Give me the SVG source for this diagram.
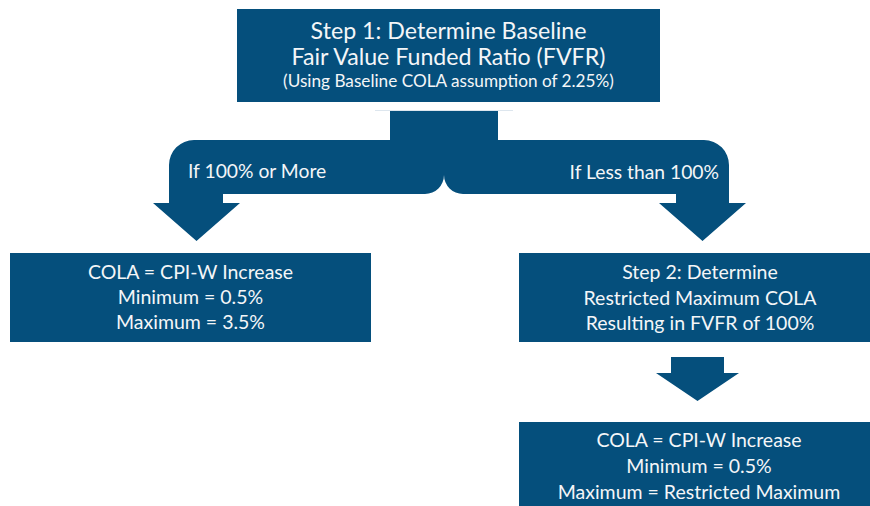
<svg xmlns="http://www.w3.org/2000/svg" width="870" height="506" viewBox="0 0 870 506">
  <style>
    .box { fill: #054f7c; }
    .arrow { fill: #054f7c; }
    text { fill: #f4f6f8; font-family: Lato, "Liberation Sans", sans-serif; }
    .t1 { font-size: 23.2px; text-anchor: middle; }
    .t2 { font-size: 17.2px; text-anchor: middle; }
    .t3 { font-size: 19.5px; text-anchor: middle; }
    .lbl { font-size: 19.3px; }
  </style>
  <rect width="870" height="506" fill="#ffffff"/>
  <g id="connectors">
    <line x1="375" y1="110.5" x2="513" y2="110.5" stroke="#dde6ee" stroke-width="1"/>
    <path id="arrow-left" class="arrow" d="M390,111 L444,111 L444,175 A19,19 0 0 1 425,194 L223,194 L223,203 L240,203 L196.5,241 L153,203 L169,203 L169,165 A25,25 0 0 1 194,140 L390,140 Z"/>
    <path id="arrow-right" class="arrow" d="M444,111 L498,111 L498,140 L704,140 A25,25 0 0 1 729,165 L729,203 L746,203 L702.5,241 L659,203 L676,203 L676,194 L463,194 A19,19 0 0 1 444,175 Z"/>
    <text class="lbl" x="188" y="178">If 100% or More</text>
    <text class="lbl" x="719" y="179" text-anchor="end">If Less than 100%</text>
    <path id="arrow-step2" class="arrow" d="M671,357 L724,357 L724,373 L739,373 L697.5,401 L656,373 L671,373 Z"/>
  </g>
  <g id="step1">
    <rect class="box" x="237" y="9" width="423" height="93"/>
    <text class="t1" x="448.5" y="39">Step 1: Determine Baseline</text>
    <text class="t1" x="448.5" y="65">Fair Value Funded Ratio (FVFR)</text>
    <text class="t2" x="448.5" y="87">(Using Baseline COLA assumption of 2.25%)</text>
  </g>
  <g id="result-left">
    <rect class="box" x="10" y="253" width="361" height="89"/>
    <text class="t3" x="190.5" y="279">COLA = CPI-W Increase</text>
    <text class="t3" x="190.5" y="304">Minimum = 0.5%</text>
    <text class="t3" x="190.5" y="329">Maximum = 3.5%</text>
  </g>
  <g id="step2">
    <rect class="box" x="519" y="253" width="362" height="89"/>
    <text class="t3" x="700" y="279">Step 2: Determine</text>
    <text class="t3" x="700" y="305">Restricted Maximum COLA</text>
    <text class="t3" x="700" y="330">Resulting in FVFR of 100%</text>
  </g>
  <g id="result-right">
    <rect class="box" x="519" y="422" width="362" height="90"/>
    <text class="t3" x="699" y="447">COLA = CPI-W Increase</text>
    <text class="t3" x="699" y="473">Minimum = 0.5%</text>
    <text class="t3" x="699" y="499">Maximum = Restricted Maximum</text>
  </g>
</svg>
